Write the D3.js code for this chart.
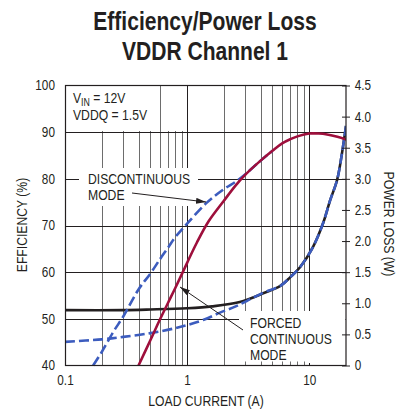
<!DOCTYPE html>
<html>
<head>
<meta charset="utf-8">
<title>Efficiency/Power Loss VDDR Channel 1</title>
<script src="https://cdn.jsdelivr.net/npm/d3@7"></script>
<style>
html, body { margin: 0; padding: 0; background: #fff; }
svg { display: block; font-family: "Liberation Sans", Arial, sans-serif; }
.tick text { font-size: 14px; fill: #231f20; }
</style>
</head>
<body>
<div id="chart"></div>
<script>
// axis ticks
const currentTicks = [0.1, 1, 10];
const effTicks = [40, 50, 60, 70, 80, 90, 100];
const lossTicks = [0, 0.5, 1, 1.5, 2, 2.5, 3, 3.5, 4, 4.5];
const gridMajor = [1, 10];
const gridMinor = [0.2, 0.3, 0.4, 0.5, 0.6, 0.7, 0.8, 0.9, 2, 3, 4, 5, 6, 7, 8, 9];
const gridEff = [50, 60, 70, 80, 90];

// efficiency, forced continuous mode (red)
const effForcedI = [0.4, 0.5, 0.6, 0.7, 0.8, 1, 1.2, 1.5, 2, 2.5, 3, 4, 5, 6, 7, 8, 10, 12, 14, 17, 20];
const effForced = [40, 45.4, 49.9, 53.5, 56.6, 62, 66.3, 70.9, 75.3, 78.6, 80.9, 83.9, 86, 87.6, 88.5, 89.1, 89.7, 89.7, 89.5, 89, 88.4];

// efficiency, discontinuous mode (blue dashed)
const effDiscI = [0.17, 0.2, 0.25, 0.3, 0.4, 0.5, 0.6, 0.7, 0.8, 1, 1.45, 2, 2.5, 3, 4, 5];
const effDisc = [40, 42.9, 47.3, 50.5, 56.3, 59.7, 62.8, 65.3, 67.5, 70.4, 74.9, 77.8, 79.4, 81, 83.9, 86];

// power loss, forced continuous (black)
const lossForcedI = [0.1, 0.3, 0.5, 1, 1.6, 2.7, 4.2, 5.8, 7, 8.4, 10.7, 13, 14.8, 16.9, 18.5, 20];
const lossForced = [0.89, 0.89, 0.9, 0.92, 0.95, 1.02, 1.16, 1.28, 1.42, 1.58, 1.9, 2.29, 2.65, 2.98, 3.4, 3.85];

// power loss, discontinuous (blue dashed)
const lossDiscI = [0.1, 0.2, 0.3, 0.5, 0.8, 1, 1.35, 1.86, 2.5, 3.1, 4.2, 5.8, 7, 8.4, 10.7, 13, 14.8, 16.9, 18.5, 20];
const lossDisc = [0.38, 0.42, 0.46, 0.52, 0.6, 0.65, 0.73, 0.85, 0.95, 1.04, 1.17, 1.28, 1.42, 1.58, 1.9, 2.29, 2.65, 2.98, 3.4, 3.85];

const W = 413, H = 409;
const L = 65, R = 346, T = 85.5, B = 365.5;
const ink = "#231f20", red = "#9e0f3c", blue = "#3c5cbe";
const SX = 0.84; // condensed look

const svg = d3.select("#chart").append("svg").attr("width", W).attr("height", H);

const x = d3.scaleLog().domain([0.1, 20]).range([L, R]);
const yE = d3.scaleLinear().domain([40, 100]).range([B, T]);
const yP = d3.scaleLinear().domain([0, 4.5]).range([B, T]);

// text with horizontal squeeze
function label(str, tx, ty, size, opt) {
    opt = opt || {};
    const rot = opt.rotate ? ` rotate(${opt.rotate})` : "";
    return svg.append("text")
        .attr("transform", `translate(${tx},${ty})${rot} scale(${opt.sx || SX},1)`)
        .attr("text-anchor", opt.anchor || "start")
        .attr("font-size", size).attr("font-weight", opt.bold ? "bold" : null)
        .attr("fill", ink).text(str);
}

// title
label("Efficiency/Power Loss", 205, 30, 26, { anchor: "middle", bold: true, sx: 0.81 });
label("VDDR Channel 1", 205, 60, 26, { anchor: "middle", bold: true, sx: 0.81 });

// grid
const grid = svg.append("g");
grid.selectAll(".vminor").data(gridMinor).enter().append("line")
    .attr("x1", d => Math.round(x(d)) + 0.5).attr("x2", d => Math.round(x(d)) + 0.5)
    .attr("y1", T).attr("y2", B).attr("stroke", "#6d6d6d").attr("stroke-width", 1);
grid.selectAll(".vmajor").data(gridMajor).enter().append("line")
    .attr("x1", d => Math.round(x(d)) + 0.5).attr("x2", d => Math.round(x(d)) + 0.5)
    .attr("y1", T).attr("y2", B).attr("stroke", ink).attr("stroke-width", 1);
grid.selectAll(".h").data(gridEff).enter().append("line")
    .attr("x1", L).attr("x2", R).attr("y1", d => Math.round(yE(d)) + 0.5).attr("y2", d => Math.round(yE(d)) + 0.5)
    .attr("stroke", ink).attr("stroke-width", 1);

// white boxes behind the notes
const boxes = [
    [L + 0.5, T + 0.5, 92, 45],      // VIN note
    [162, T + 0.5, 23, 45],
    [79, 168, 119, 38],              // discontinuous note
    [239, 311, R - 239 - 0.5, 52]    // forced continuous note
];
svg.selectAll(".box").data(boxes).enter().append("rect")
    .attr("x", d => d[0]).attr("y", d => d[1]).attr("width", d => d[2]).attr("height", d => d[3])
    .attr("fill", "#fff");

// small inner ticks on the bottom edge
svg.selectAll(".btick").data(gridMinor).enter().append("line")
    .attr("x1", d => Math.round(x(d)) + 0.5).attr("x2", d => Math.round(x(d)) + 0.5)
    .attr("y1", B - 4).attr("y2", B).attr("stroke", "#6d6d6d");

// curves
svg.append("clipPath").attr("id", "clip").append("rect")
    .attr("x", L).attr("y", T).attr("width", R - L).attr("height", B - T + 2);
const plot = svg.append("g").attr("clip-path", "url(#clip)");

function series(xs, ys) { return xs.map((d, i) => [d, ys[i]]); }
const lineE = d3.line().x(d => x(d[0])).y(d => yE(d[1])).curve(d3.curveCatmullRom.alpha(0.5));
const lineP = d3.line().x(d => x(d[0])).y(d => yP(d[1])).curve(d3.curveCatmullRom.alpha(0.5));

plot.append("path").attr("d", lineP(series(lossForcedI, lossForced)))
    .attr("fill", "none").attr("stroke", ink).attr("stroke-width", 2.6);
plot.append("path").attr("d", lineP(series(lossDiscI, lossDisc)))
    .attr("fill", "none").attr("stroke", blue).attr("stroke-width", 2.6).attr("stroke-dasharray", "10,4");
plot.append("path").attr("d", lineE(series(effDiscI, effDisc)))
    .attr("fill", "none").attr("stroke", blue).attr("stroke-width", 2.6).attr("stroke-dasharray", "10,4");
plot.append("path").attr("d", lineE(series(effForcedI, effForced)))
    .attr("fill", "none").attr("stroke", red).attr("stroke-width", 2.6);

// frame
svg.append("rect").attr("x", L + 0.5).attr("y", T).attr("width", R - L - 0.5).attr("height", B - T)
    .attr("fill", "none").attr("stroke", ink).attr("stroke-width", 1.2);

// axes
const fmtLoss = d => d === 0 ? "0" : d3.format(".1f")(d);
const ax = svg.append("g").attr("transform", `translate(0,${B})`)
    .call(d3.axisBottom(x).tickValues(currentTicks).tickSize(0).tickPadding(7).tickFormat(d3.format("")));
const ayL = svg.append("g").attr("transform", `translate(${L},0)`)
    .call(d3.axisLeft(yE).tickValues(effTicks).tickSize(0).tickPadding(12));
const ayR = svg.append("g").attr("transform", `translate(${R},0)`)
    .call(d3.axisRight(yP).tickValues(lossTicks).tickSize(4).tickPadding(6.5).tickFormat(fmtLoss));
const ayRin = svg.append("g").attr("transform", `translate(${R},0)`)
    .call(d3.axisLeft(yP).tickValues(lossTicks).tickSize(4).tickFormat(""));
[ax, ayL, ayR, ayRin].forEach(g => {
    g.select(".domain").remove();
    g.selectAll("line").attr("stroke", ink);
    g.selectAll("text").attr("font-family", null).attr("transform", `scale(${SX},1)`);
});
ax.selectAll("text").attr("dy", "0.9em");

// axis titles
label("LOAD CURRENT (A)", 206, 406, 14.5, { anchor: "middle" });
label("EFFICIENCY (%)", 27, 225, 14.5, { anchor: "middle", rotate: -90 });
label("POWER LOSS (W)", 384, 224, 14.5, { anchor: "middle", rotate: 90 });

// notes
const vin = label("", 73, 103, 14.5);
vin.append("tspan").text("V");
vin.append("tspan").attr("font-size", 10.5).attr("dy", 3).text("IN");
vin.append("tspan").attr("dy", -3).text(" = 12V");
label("VDDQ = 1.5V", 73, 120, 14.5);

label("DISCONTINUOUS", 88, 184, 14.5);
label("MODE", 88, 200, 14.5);
label("FORCED", 250, 328, 14.5);
label("CONTINUOUS", 250, 344, 14.5);
label("MODE", 250, 360, 14.5);

// arrows
svg.append("defs").append("marker").attr("id", "arr").attr("viewBox", "0 0 10 6")
    .attr("refX", 10).attr("refY", 3).attr("markerWidth", 10).attr("markerHeight", 6)
    .attr("markerUnits", "userSpaceOnUse").attr("orient", "auto")
    .append("path").attr("d", "M0,0L10,3L0,6Z").attr("fill", ink);
const arrows = [[132, 193, 206, 202], [243, 330, 180, 287]];
svg.selectAll(".arrow").data(arrows).enter().append("line")
    .attr("x1", d => d[0]).attr("y1", d => d[1]).attr("x2", d => d[2]).attr("y2", d => d[3])
    .attr("stroke", ink).attr("stroke-width", 1).attr("marker-end", "url(#arr)");
</script>
</body>
</html>
